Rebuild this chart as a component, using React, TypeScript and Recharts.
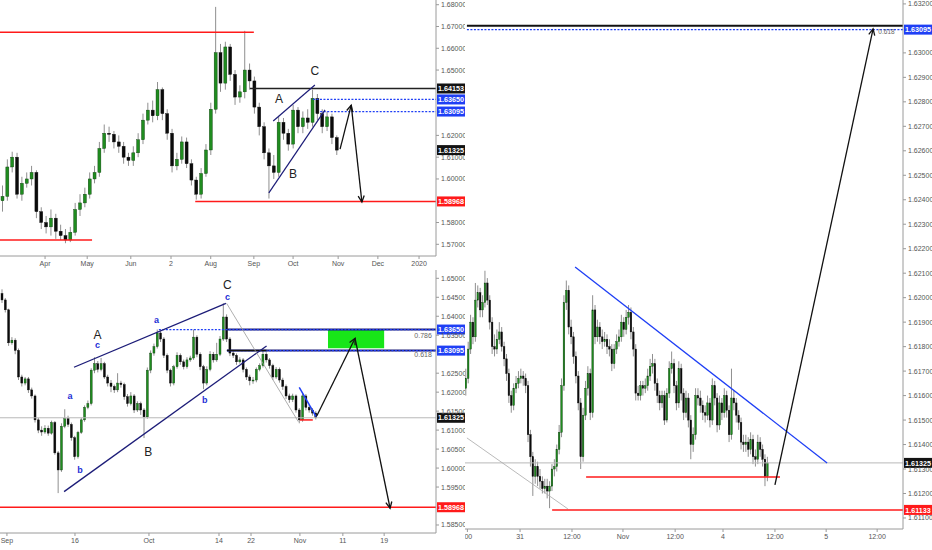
import React from 'react';
import {
  ComposedChart,
  Bar,
  XAxis,
  YAxis,
  ReferenceLine,
  ReferenceDot,
  ReferenceArea,
} from 'recharts';

const FONT = '"Liberation Sans", Arial, sans-serif';
const RED = '#ff1a1a';
const BLUE = '#1f3ff5';
const NAVY = '#1c1c78';
const BLACK = '#131313';

// ---- top left: daily candles, Mar - Nov 2019 (open = previous close)
const topFirstOpen = 1.59;
const topClose = [
  1.592, 1.6055, 1.61, 1.593, 1.598, 1.6, 1.603, 1.585, 1.58, 1.578,
  1.582, 1.576, 1.574, 1.572, 1.5755, 1.586, 1.589, 1.593, 1.6, 1.603,
  1.614, 1.621, 1.6205, 1.617, 1.615, 1.61, 1.6085, 1.612, 1.618, 1.627,
  1.6316, 1.629, 1.641, 1.63, 1.621, 1.606, 1.609, 1.617, 1.607, 1.5995,
  1.593, 1.6025, 1.6133, 1.632, 1.658, 1.644, 1.6606, 1.648, 1.6376, 1.64,
  1.65, 1.645, 1.633, 1.624, 1.612, 1.606, 1.603, 1.626, 1.621, 1.616,
  1.6316, 1.624, 1.628, 1.626, 1.637, 1.63, 1.624, 1.6285, 1.619, 1.61325,
];
const topHigh = [
  1.597, 1.609, 1.6125, 1.612, 1.601, 1.603, 1.606, 1.604, 1.587, 1.583,
  1.586, 1.584, 1.579, 1.577, 1.578, 1.589, 1.593, 1.596, 1.603, 1.606,
  1.617, 1.625, 1.624, 1.622, 1.62, 1.617, 1.612, 1.615, 1.621, 1.63,
  1.635, 1.636, 1.6445, 1.642, 1.632, 1.623, 1.612, 1.6195, 1.619, 1.609,
  1.601, 1.605, 1.616, 1.635, 1.679, 1.662, 1.663, 1.662, 1.65, 1.643,
  1.668, 1.653, 1.647, 1.635, 1.626, 1.614, 1.611, 1.629, 1.628, 1.623,
  1.634, 1.633, 1.631, 1.632, 1.641, 1.639, 1.632, 1.631, 1.63, 1.62,
];
const topLow = [
  1.585, 1.59, 1.603, 1.591, 1.59, 1.596, 1.597, 1.582, 1.577, 1.575,
  1.574, 1.5725, 1.572, 1.5705, 1.571, 1.574, 1.583, 1.587, 1.591, 1.598,
  1.601, 1.612, 1.617, 1.614, 1.612, 1.607, 1.606, 1.606, 1.61, 1.616,
  1.625, 1.626, 1.627, 1.627, 1.618, 1.603, 1.604, 1.607, 1.605, 1.597,
  1.5905, 1.591, 1.601, 1.611, 1.63, 1.64, 1.641, 1.645, 1.634, 1.635,
  1.637, 1.641, 1.63, 1.62, 1.609, 1.591, 1.6, 1.601, 1.618, 1.613,
  1.614, 1.621, 1.621, 1.623, 1.624, 1.627, 1.621, 1.622, 1.616, 1.611,
];
const topTickAt = [8.8, 17.5, 26.5, 34.8, 43, 51.9, 60, 69.3, 77.5, 86];
const topTickText = ['Apr', 'May', 'Jun', '2', 'Aug', 'Sep', 'Oct', 'Nov', 'Dec', '2020'];
// 1.59, 1.63 and 1.64 sit under the price tags
const topYTicks = [1.57, 1.58, 1.6, 1.61, 1.62, 1.65, 1.66, 1.67, 1.68];

// ---- bottom left: 4h candles, Sep - Nov
const btmFirstOpen = 1.646;
const btmClose = [
  1.6443, 1.6417, 1.633, 1.6337, 1.631, 1.624, 1.6224, 1.6235, 1.6206, 1.619,
  1.6127, 1.61, 1.6095, 1.6105, 1.6092, 1.612, 1.604, 1.5995, 1.611, 1.613,
  1.6115, 1.608, 1.603, 1.6094, 1.6127, 1.616, 1.617, 1.6258, 1.6275, 1.626,
  1.6275, 1.624, 1.6224, 1.6215, 1.6206, 1.6224, 1.622, 1.6188, 1.617, 1.619,
  1.6153, 1.617, 1.6153, 1.6135, 1.6258, 1.6303, 1.632, 1.6356, 1.634, 1.6297,
  1.6258, 1.6224, 1.6267, 1.6297, 1.628, 1.6267, 1.6285, 1.629, 1.6345, 1.63,
  1.6267, 1.6224, 1.626, 1.63, 1.6285, 1.63, 1.634, 1.6398, 1.634, 1.6303,
  1.6297, 1.628, 1.6285, 1.626, 1.624, 1.623, 1.6232, 1.626, 1.627, 1.63,
  1.6285, 1.627, 1.624, 1.626, 1.6232, 1.6215, 1.619, 1.618, 1.619, 1.6153,
  1.6127, 1.619, 1.616, 1.6153, 1.6145, 1.61325,
];
const btmHigh = [
  1.6471, 1.6448, 1.642, 1.6345, 1.6342, 1.6315, 1.6246, 1.624, 1.624, 1.6212,
  1.6194, 1.6132, 1.611, 1.6113, 1.6112, 1.6125, 1.6124, 1.6045, 1.6118, 1.6155,
  1.6138, 1.612, 1.6085, 1.6098, 1.6132, 1.6165, 1.6178, 1.6263, 1.6292, 1.6282,
  1.629, 1.628, 1.6246, 1.6232, 1.622, 1.625, 1.623, 1.6225, 1.6195, 1.62,
  1.6195, 1.6176, 1.6175, 1.6158, 1.6265, 1.631, 1.6328, 1.6365, 1.6362, 1.6345,
  1.6302, 1.6262, 1.6272, 1.6305, 1.6302, 1.6286, 1.6292, 1.6296, 1.6365, 1.635,
  1.6305, 1.6272, 1.6268, 1.6308, 1.6306, 1.633, 1.6348, 1.6434, 1.6405, 1.6345,
  1.631, 1.6302, 1.6292, 1.629, 1.6265, 1.6246, 1.624, 1.6265, 1.6276, 1.631,
  1.6305, 1.629, 1.6275, 1.6266, 1.6265, 1.6238, 1.622, 1.6196, 1.6196, 1.6194,
  1.6158, 1.6196, 1.6195, 1.6166, 1.6158, 1.615,
];
const btmLow = [
  1.6435, 1.641, 1.6322, 1.6325, 1.63, 1.6232, 1.6215, 1.6218, 1.6198, 1.6183,
  1.612, 1.6092, 1.6085, 1.609, 1.6085, 1.6088, 1.6035, 1.5934, 1.599, 1.6105,
  1.6108, 1.6072, 1.6022, 1.6025, 1.609, 1.6122, 1.6155, 1.6165, 1.625, 1.6252,
  1.6255, 1.6235, 1.6215, 1.62, 1.6198, 1.62, 1.6212, 1.618, 1.6162, 1.6165,
  1.6145, 1.6148, 1.614, 1.6079, 1.613, 1.625, 1.6296, 1.6315, 1.6332, 1.629,
  1.625, 1.6215, 1.6218, 1.6262, 1.6272, 1.626, 1.6262, 1.628, 1.6285, 1.6292,
  1.6258, 1.6208, 1.6218, 1.6255, 1.6278, 1.628, 1.6295, 1.6335, 1.6332, 1.6295,
  1.629, 1.6272, 1.6275, 1.6252, 1.6232, 1.6218, 1.6222, 1.6226, 1.6255, 1.6265,
  1.6278, 1.6262, 1.6232, 1.6235, 1.6225, 1.6206, 1.6182, 1.6172, 1.6174, 1.6146,
  1.6118, 1.6122, 1.6152, 1.6146, 1.6138, 1.6128,
];
const btmTickAt = [1.6, 22.2, 44.6, 65.8, 75.5, 90.3, 103.3, 115.8];
const btmTickText = ['Sep', '16', 'Oct', '14', '22', 'Nov', '11', '19'];
// 1.59 and 1.63 sit under the price tags
const btmYTicks = [
  1.585, 1.595, 1.6, 1.605, 1.61, 1.615, 1.62, 1.625, 1.635, 1.64, 1.645, 1.65,
];

// ---- right: 15m candles, Oct 30 - Nov 4
const rFirstOpen = 1.6163;
const rClose = [
  1.6167, 1.6179, 1.619, 1.6184, 1.6199, 1.6202, 1.6195, 1.6198, 1.6206, 1.6199,
  1.619, 1.618, 1.6179, 1.6183, 1.6186, 1.618, 1.6175, 1.6169, 1.616, 1.6156,
  1.6163, 1.6165, 1.6167, 1.6168, 1.6167, 1.6164, 1.6144, 1.6135, 1.6127, 1.6131,
  1.6127, 1.6125, 1.6122, 1.6123, 1.6121, 1.6123, 1.613, 1.6131, 1.6138, 1.6145,
  1.6164, 1.6198, 1.6203, 1.6188, 1.6184, 1.6176, 1.6168, 1.6157, 1.6135, 1.6152,
  1.6163, 1.6169, 1.6153, 1.6195, 1.6184, 1.6188, 1.6184, 1.6182, 1.6183, 1.618,
  1.6179, 1.6173, 1.6179, 1.6182, 1.6184, 1.619, 1.6187, 1.6192, 1.6194, 1.6186,
  1.6179, 1.6161, 1.616, 1.6164, 1.6163, 1.6164, 1.6168, 1.6172, 1.6173, 1.6165,
  1.616, 1.6157, 1.616, 1.615, 1.6161, 1.6171, 1.6173, 1.6164, 1.6157, 1.6171,
  1.6161, 1.6153, 1.6159, 1.615, 1.614, 1.6144, 1.616, 1.6159, 1.6156, 1.6153,
  1.6152, 1.6157, 1.615, 1.6164, 1.6159, 1.6148, 1.6157, 1.6153, 1.616, 1.6154,
  1.6144, 1.6159, 1.6157, 1.6152, 1.6149, 1.6141, 1.614, 1.6141, 1.6138, 1.6142,
  1.6135, 1.6134, 1.6141, 1.6138, 1.6134, 1.6127, 1.61325,
];
const rHigh = [
  1.6171, 1.6182, 1.6193, 1.6192, 1.6206, 1.6205, 1.6204, 1.6201, 1.6211, 1.6208,
  1.6201, 1.6192, 1.6185, 1.6187, 1.619, 1.6188, 1.6182, 1.6177, 1.6171, 1.6162,
  1.6165, 1.6168, 1.617, 1.6171, 1.617, 1.6169, 1.6166, 1.6146, 1.6137, 1.6134,
  1.6133, 1.613, 1.6127, 1.6126, 1.6126, 1.6125, 1.6132, 1.6134, 1.614, 1.6148,
  1.6167, 1.6201, 1.6207, 1.6205, 1.6191, 1.6186, 1.6178, 1.617, 1.6159, 1.6155,
  1.6166, 1.6172, 1.6171, 1.6201, 1.6197, 1.6191, 1.619, 1.6187, 1.6186, 1.6185,
  1.6183, 1.6181, 1.6181, 1.6185, 1.6187, 1.6193, 1.6192, 1.6195, 1.6197, 1.6196,
  1.6188, 1.6181, 1.6164, 1.6166, 1.6166, 1.6167, 1.6171, 1.6175, 1.6177, 1.6175,
  1.6167, 1.6162, 1.6162, 1.6162, 1.6163, 1.6174, 1.6178, 1.6175, 1.6166, 1.6174,
  1.6173, 1.6163, 1.6162, 1.6161, 1.6152, 1.6147, 1.6163, 1.6163, 1.6162, 1.6158,
  1.6156, 1.616, 1.6159, 1.6167, 1.6166, 1.6161, 1.616, 1.6159, 1.6163, 1.6162,
  1.6156, 1.6171, 1.6162, 1.6159, 1.6154, 1.6151, 1.6144, 1.6144, 1.6143, 1.6145,
  1.6144, 1.6138, 1.6144, 1.6143, 1.614, 1.6136, 1.6135,
];
const rLow = [
  1.616, 1.6165, 1.6177, 1.6181, 1.6182, 1.6196, 1.6192, 1.6192, 1.6196, 1.6197,
  1.6187, 1.6177, 1.6176, 1.6177, 1.6181, 1.6178, 1.6172, 1.6166, 1.6157, 1.6153,
  1.6154, 1.6161, 1.6163, 1.6165, 1.6164, 1.6161, 1.6141, 1.6131, 1.6119, 1.6124,
  1.6123, 1.6122, 1.612, 1.612, 1.6118, 1.6114, 1.6121, 1.6127, 1.6129, 1.6136,
  1.6143, 1.6162, 1.6195, 1.6185, 1.6181, 1.6173, 1.6165, 1.6154, 1.613, 1.6133,
  1.615, 1.616, 1.615, 1.6151, 1.6181, 1.6182, 1.6181, 1.6179, 1.618, 1.6177,
  1.6176, 1.617, 1.6171, 1.6177, 1.618, 1.6182, 1.6184, 1.6185, 1.6189, 1.6183,
  1.6176, 1.6158, 1.6158, 1.6158, 1.616, 1.6161, 1.6162, 1.6166, 1.6169, 1.6162,
  1.6157, 1.6154, 1.6155, 1.6148, 1.6149, 1.6159, 1.6169, 1.6161, 1.6154, 1.6155,
  1.6158, 1.615, 1.6151, 1.6147, 1.6134, 1.6137, 1.6142, 1.6156, 1.6153, 1.615,
  1.6149, 1.615, 1.6147, 1.6148, 1.6156, 1.6145, 1.6146, 1.615, 1.6151, 1.6151,
  1.6141, 1.6142, 1.6154, 1.6149, 1.6146, 1.6138, 1.6137, 1.6137, 1.6135, 1.6136,
  1.6132, 1.6131, 1.6132, 1.6135, 1.6131, 1.6123, 1.6125,
];
const rTickAt = [0.5, 22.5, 44.2, 65.5, 87.3, 107.3, 129, 150.4, 171.7];
const rTickText = [':00', '31', '12:00', 'Nov', '12:00', '4', '12:00', '5', '12:00'];
// 1.631 sits under the 1.63095 tag
const rYTicks = [
  1.611, 1.612, 1.613, 1.614, 1.615, 1.616, 1.617, 1.618, 1.619, 1.62, 1.621,
  1.622, 1.623, 1.624, 1.625, 1.626, 1.627, 1.628, 1.629, 1.63, 1.632,
];

function buildRows(firstOpen: number, close: number[], high: number[], low: number[]) {
  return close.map((c, i) => ({
    i,
    o: i === 0 ? firstOpen : close[i - 1],
    c,
    h: high[i],
    l: low[i],
    range: [low[i], high[i]],
  }));
}

function Candle(props: any) {
  const { x, y, width, height, payload } = props;
  if (!payload || payload.h == null) return null;
  const top = Math.min(y, y + height);
  const bot = Math.max(y, y + height);
  const span = payload.h - payload.l || 1e-9;
  const py = (v: number) => top + ((payload.h - v) / span) * (bot - top);
  const cx = x + width / 2;
  const up = payload.c >= payload.o;
  const yo = py(payload.o);
  const yc = py(payload.c);
  const bt = Math.min(yo, yc);
  const bh = Math.max(Math.abs(yc - yo), 1);
  return (
    <g>
      <line x1={cx} x2={cx} y1={top} y2={bot} stroke="#8f8f8f" strokeWidth={1} />
      <rect
        x={x}
        y={bt}
        width={width}
        height={bh}
        fill={up ? '#1f8c1f' : '#0b0b0b'}
        stroke={up ? '#0c3a0c' : '#0b0b0b'}
        strokeWidth={0.4}
      />
    </g>
  );
}

function PriceTag(props: any) {
  const { viewBox, text, bg } = props;
  if (!viewBox) return null;
  const x = viewBox.x + viewBox.width + 1;
  return (
    <g>
      <rect x={x} y={viewBox.y - 5} width={28} height={10} fill={bg} />
      <text
        x={x + 14}
        y={viewBox.y + 2.6}
        textAnchor="middle"
        fontSize={7.2}
        fontWeight="bold"
        fill="#fff"
        fontFamily={FONT}
      >
        {text}
      </text>
    </g>
  );
}

function ArrowShape(props: any) {
  const { x1, y1, x2, y2, stroke } = props;
  const ang = Math.atan2(y2 - y1, x2 - x1);
  const L = 7;
  const A = 0.45;
  const ax = x2 - L * Math.cos(ang - A);
  const ay = y2 - L * Math.sin(ang - A);
  const bx = x2 - L * Math.cos(ang + A);
  const by = y2 - L * Math.sin(ang + A);
  return (
    <g>
      <line x1={x1} y1={y1} x2={x2} y2={y2} stroke={stroke} strokeWidth={1.3} />
      <polyline
        points={`${ax},${ay} ${x2},${y2} ${bx},${by}`}
        fill="none"
        stroke={stroke}
        strokeWidth={1.3}
      />
    </g>
  );
}

let k = 0;
const seg = (a: number[], b: number[], stroke: string, w = 1, dash?: string) => (
  <ReferenceLine
    key={'s' + k++}
    segment={[{ x: a[0], y: a[1] }, { x: b[0], y: b[1] }]}
    stroke={stroke}
    strokeWidth={w}
    strokeDasharray={dash}
    ifOverflow="visible"
  />
);
const arrow = (a: number[], b: number[]) => (
  <ReferenceLine
    key={'a' + k++}
    segment={[{ x: a[0], y: a[1] }, { x: b[0], y: b[1] }]}
    stroke="#111"
    ifOverflow="visible"
    shape={<ArrowShape />}
  />
);
const tag = (price: number, bg: string) => (
  <ReferenceLine
    key={'t' + k++}
    y={price}
    stroke="none"
    ifOverflow="visible"
    label={<PriceTag text={price.toFixed(5)} bg={bg} />}
  />
);
const mark = (x: number, y: number, text: string, color: string, size: number, weight = 'normal') => (
  <ReferenceDot
    key={'m' + k++}
    x={x}
    y={y}
    r={0}
    ifOverflow="visible"
    shape={(p: any) => (
      <text
        x={p.cx}
        y={p.cy}
        textAnchor="middle"
        dominantBaseline="central"
        fontSize={size}
        fontWeight={weight}
        fill={color}
        fontFamily={FONT}
      >
        {text}
      </text>
    )}
  />
);

function Panel(props: any) {
  const { width, height, rows, slots, yDomain, yTicks, xTicks, xText, xHeight, barSize, children } = props;
  const tickStyle = { fontSize: 7, fill: '#555', fontFamily: FONT };
  return (
    <ComposedChart
      width={width}
      height={height}
      data={rows}
      margin={{ top: 0, right: 0, bottom: 0, left: 0 }}
    >
      <XAxis
        type="number"
        dataKey="i"
        domain={[-0.5, slots - 0.5]}
        allowDataOverflow
        ticks={xTicks}
        interval={0}
        tickFormatter={(v: number) => xText[xTicks.indexOf(v)] ?? ''}
        height={xHeight}
        tick={tickStyle}
        tickSize={3}
        stroke="#9a9a9a"
      />
      <YAxis
        orientation="right"
        type="number"
        domain={yDomain}
        allowDataOverflow
        ticks={yTicks}
        interval={0}
        width={29}
        tickFormatter={(v: number) => v.toFixed(5)}
        tick={tickStyle}
        tickSize={3}
        stroke="#9a9a9a"
      />
      <Bar dataKey="range" barSize={barSize} shape={<Candle />} isAnimationActive={false} />
      {children}
    </ComposedChart>
  );
}

export default function App() {
  const topRows = buildRows(topFirstOpen, topClose, topHigh, topLow);
  const btmRows = buildRows(btmFirstOpen, btmClose, btmHigh, btmLow);
  const rRows = buildRows(rFirstOpen, rClose, rHigh, rLow);

  const topOver = [
    seg([-0.5, 1.6673], [51.9, 1.6673], RED, 1.5),
    seg([-0.5, 1.572], [18.5, 1.572], RED, 1.5),
    seg([39.8, 1.58968], [89.5, 1.58968], RED, 1.5),
    seg([51.1, 1.64153], [89.5, 1.64153], '#222', 1.5),
    seg([64.1, 1.6365], [89.5, 1.6365], BLUE, 1.3, '2 1.5'),
    seg([65.6, 1.63095], [89.5, 1.63095], BLUE, 1.3, '2 1.5'),
    seg([55.9, 1.6266], [64.5, 1.6431], NAVY, 1.2),
    seg([55.0, 1.5936], [66.6, 1.6317], NAVY, 1.2),
    mark(57.1, 1.6367, 'A', '#222', 12),
    mark(60, 1.6023, 'B', '#222', 12),
    mark(64.5, 1.6496, 'C', '#222', 12),
    arrow([69.7, 1.6137], [72.0, 1.6339]),
    arrow([72.0, 1.6339], [74.2, 1.5894]),
    tag(1.64153, BLACK),
    tag(1.6365, BLUE),
    tag(1.63095, BLUE),
    tag(1.61325, BLACK),
    tag(1.58968, RED),
  ];

  const btmOver = [
    seg([-0.5, 1.61325], [131.5, 1.61325], '#b8b8b8', 1),
    seg([-0.5, 1.58968], [131.5, 1.58968], RED, 1.5),
    <ReferenceArea
      key="green"
      x1={98.8}
      x2={115.8}
      y1={1.6316}
      y2={1.6366}
      fill="#18e618"
      fillOpacity={1}
      stroke="none"
      ifOverflow="visible"
    />,
    seg([68.2, 1.6365], [131.5, 1.6365], NAVY, 2),
    seg([68.2, 1.63095], [131.5, 1.63095], NAVY, 2),
    seg([47.6, 1.6365], [131.5, 1.6365], BLUE, 1.3, '2 1.5'),
    seg([68.2, 1.63095], [131.5, 1.63095], BLUE, 1.3, '2 1.5'),
    seg([68.2, 1.6310], [80.2, 1.6310], '#111', 1.5),
    mark(127.6, 1.6350, '0.786', '#666', 7),
    mark(127.6, 1.6298, '0.618', '#666', 7),
    seg([21.9, 1.62656], [67.9, 1.64342], NAVY, 1.3),
    seg([18.9, 1.59379], [80.2, 1.63217], NAVY, 1.3),
    seg([68.1, 1.64342], [89.8, 1.61223], '#9a9a9a', 0.8),
    seg([90.1, 1.62129], [95.2, 1.61354], BLUE, 1.5),
    seg([90.3, 1.61268], [94.2, 1.61268], RED, 1.5),
    arrow([95.4, 1.61373], [107.0, 1.6342]),
    arrow([107.0, 1.6342], [117.6, 1.58941]),
    mark(68.3, 1.6482, 'C', '#222', 12),
    mark(68.4, 1.6451, 'c', '#1d2fd6', 9, 'bold'),
    mark(29.0, 1.6351, 'A', '#222', 12),
    mark(29.0, 1.6324, 'c', '#1d2fd6', 9, 'bold'),
    mark(46.9, 1.639, 'a', '#1d2fd6', 9, 'bold'),
    mark(61.5, 1.6179, 'b', '#1d2fd6', 9, 'bold'),
    mark(44.4, 1.6043, 'B', '#222', 12),
    mark(20.7, 1.6191, 'a', '#1d2fd6', 9, 'bold'),
    mark(23.7, 1.5995, 'b', '#1d2fd6', 9, 'bold'),
    tag(1.6365, BLUE),
    tag(1.63095, BLUE),
    tag(1.61325, BLACK),
    tag(1.58968, RED),
  ];

  const rOver = [
    seg([-0.5, 1.61325], [182.5, 1.61325], '#b8b8b8', 1),
    seg([0.3, 1.63111], [182.5, 1.63111], '#111', 2),
    seg([0.3, 1.63095], [182.5, 1.63095], BLUE, 1.3, '2 1.5'),
    mark(175.6, 1.63086, '0.618', '#666', 6.5),
    seg([45.5, 1.62125], [150.8, 1.61325], BLUE, 1.3),
    seg([0.3, 1.61427], [42.5, 1.61137], '#a8a8a8', 0.8),
    seg([50.1, 1.61267], [131.1, 1.61267], RED, 1.5),
    seg([35.9, 1.61133], [182.5, 1.61133], RED, 1.5),
    arrow([129.0, 1.61235], [170.0, 1.63098]),
    tag(1.63095, BLUE),
    tag(1.61325, BLACK),
    tag(1.61133, RED),
  ];

  return (
    <div
      style={{
        position: 'fixed',
        left: 0,
        top: 0,
        width: 932,
        height: 550,
        background: '#fff',
        fontFamily: FONT,
        overflow: 'hidden',
      }}
    >
      <div style={{ position: 'absolute', left: 0, top: 0 }}>
        <Panel
          width={465}
          height={270}
          rows={topRows}
          slots={90}
          yDomain={[1.56463, 1.68216]}
          yTicks={topYTicks}
          xTicks={topTickAt}
          xText={topTickText}
          xHeight={14}
          barSize={3}
        >
          {topOver}
        </Panel>
      </div>
      <div style={{ position: 'absolute', left: 0, top: 270 }}>
        <Panel
          width={465}
          height={280}
          rows={btmRows}
          slots={132}
          yDomain={[1.58289, 1.65219]}
          yTicks={btmYTicks}
          xTicks={btmTickAt}
          xText={btmTickText}
          xHeight={17}
          barSize={2}
        >
          {btmOver}
        </Panel>
      </div>
      <div style={{ position: 'absolute', left: 465, top: 0 }}>
        <Panel
          width={467}
          height={550}
          rows={rRows}
          slots={183}
          yDomain={[1.61055, 1.63216]}
          yTicks={rYTicks}
          xTicks={rTickAt}
          xText={rTickText}
          xHeight={21}
          barSize={1.6}
        >
          {rOver}
        </Panel>
      </div>
    </div>
  );
}
